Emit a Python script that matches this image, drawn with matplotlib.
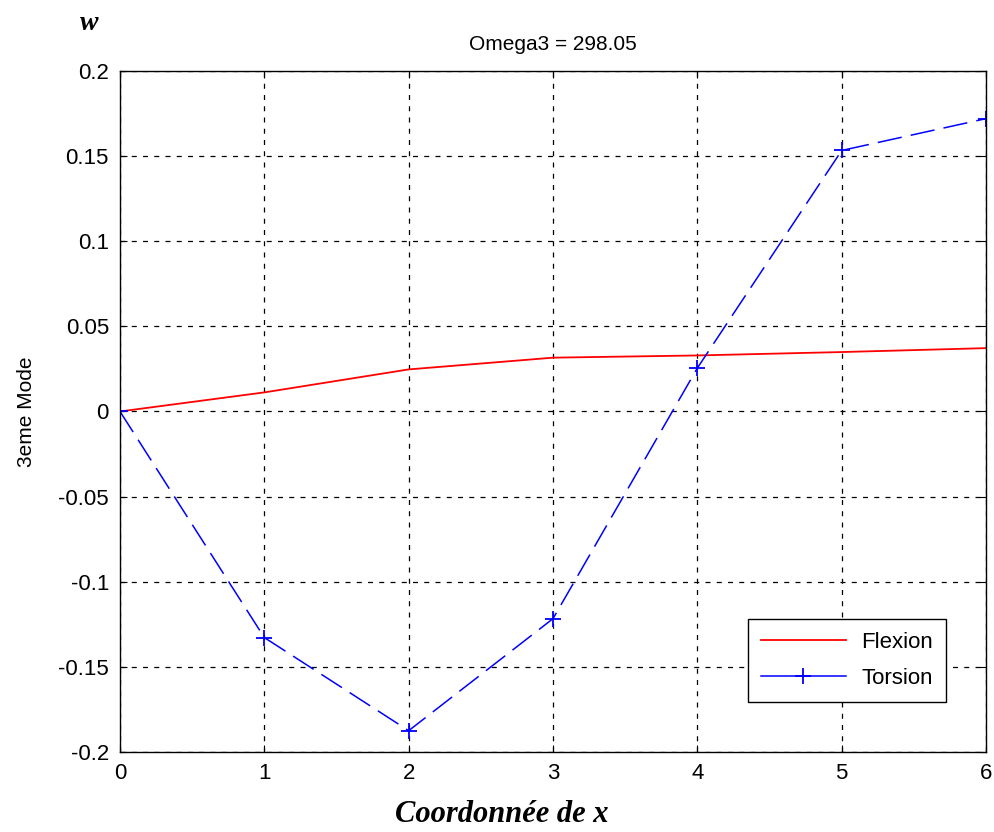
import matplotlib.pyplot as plt
import numpy as np

x = [0, 1, 2, 3, 4, 5, 6]
flexion = [0.0, 0.0112, 0.0247, 0.0316, 0.0329, 0.0349, 0.0372]
torsion = [0.0, -0.1328, -0.1875, -0.1217, 0.0255, 0.1533, 0.1720]

xticks = [0, 1, 2, 3, 4, 5, 6]
yticks = [-0.2, -0.15, -0.1, -0.05, 0, 0.05, 0.1, 0.15, 0.2]
yticklabels = ['-0.2', '-0.15', '-0.1', '-0.05', '0', '0.05', '0.1', '0.15', '0.2']

plt.rcParams['font.family'] = ['Liberation Sans', 'DejaVu Sans']

fig = plt.figure(figsize=(9.95, 8.32), dpi=100)
ax = fig.add_axes([0.1206, 0.0962, 0.8704, 0.8185])

ax.plot(x, flexion, color='red', lw=1.3, label='Flexion')
ax.plot(x, torsion, color='blue', lw=1.1, ls=(0, (16, 6)), marker='+',
        ms=12, mew=1.3, label='Torsion')

ax.set_xlim(0, 6)
ax.set_ylim(-0.2, 0.2)
ax.set_xticks(xticks)
ax.set_yticks(yticks)
ax.set_yticklabels(yticklabels)
ax.tick_params(direction='in', length=5, labelsize=16, pad=8, width=0.8)
ax.tick_params(top=True, right=True)
ax.grid(True, color='black', ls=(0, (4, 5)), lw=0.9)
for s in ax.spines.values():
    s.set_linewidth(1.0)

ax.set_title('Omega3 = 298.05', fontsize=15, pad=15)
ax.set_ylabel('3eme Mode', fontsize=15, labelpad=16)
ax.set_xlabel('Coordonnée de x', fontsize=22, family='Liberation Serif',
              style='italic', weight='bold', va='center')
ax.xaxis.set_label_coords(0.441, -0.092)
fig.text(0.08, 0.972, 'w', fontsize=20, family='Liberation Serif',
         style='italic', weight='bold', va='center', ha='left')

leg = ax.legend(loc='lower right', bbox_to_anchor=(0.967, 0.057), fontsize=16,
                fancybox=False, edgecolor='black', framealpha=1,
                handlelength=3.8, borderpad=0.6, labelspacing=0.65,
                handletextpad=0.7)
leg.get_frame().set_linewidth(1.0)
for h in leg.get_lines():
    h.set_linestyle('-')

fig.savefig('out.png', dpi=100)
